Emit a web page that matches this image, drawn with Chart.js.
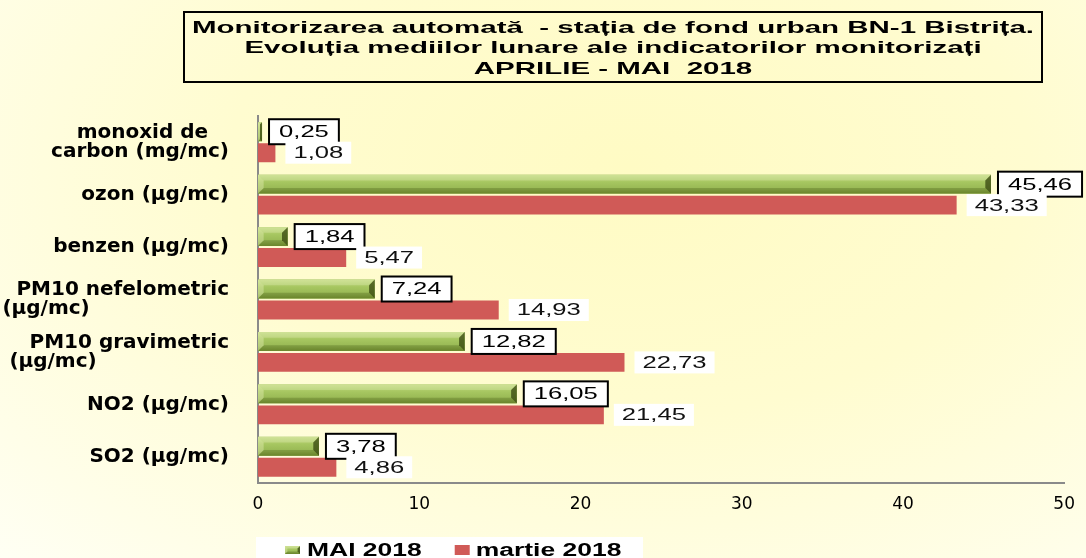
<!DOCTYPE html>
<html>
<head>
<meta charset="utf-8">
<script src="https://cdn.jsdelivr.net/npm/chart.js@4.4.1/dist/chart.umd.min.js"></script>
<style>
html, body { margin: 0; padding: 0; }
body {
	width: 1086px; height: 558px; overflow: hidden;
	background: radial-gradient(ellipse at 58% 30%, #fffbc4 0%, #fffcd0 45%, #fffee9 85%, #fffff4 100%);
}
#wrap { position: relative; width: 1086px; height: 558px; }
</style>
</head>
<body>
<div id="wrap"><canvas id="grafic"></canvas></div>
<script>
var NB = '\u00a0';
var categorii = [
	['monoxid de' + NB.repeat(3), 'carbon (mg/mc)'],
	'ozon (µg/mc)',
	'benzen (µg/mc)',
	['PM10 nefelometric', '(µg/mc)' + NB.repeat(20)],
	['PM10 gravimetric', '(µg/mc)' + NB.repeat(19)],
	'NO2 (µg/mc)',
	'SO2 (µg/mc)'
];
var valoriMai = [0.25, 45.46, 1.84, 7.24, 12.82, 16.05, 3.78];
var valoriMartie = [1.08, 43.33, 5.47, 14.93, 22.73, 21.45, 4.86];
var etichetaMai = 'MAI 2018';
var etichetaMartie = 'martie 2018';
var tickuriX = [0, 10, 20, 30, 40, 50];
var titlu = [
	'Monitorizarea automată  - stația de fond urban BN-1 Bistrița.',
	'Evoluția mediilor lunare ale indicatorilor monitorizați',
	'APRILIE - MAI  2018'
];

var VERDE = '#9bbb59';
var ROSU = '#d05a57';

function poly(ctx, pts, color) {
	ctx.beginPath();
	ctx.moveTo(pts[0][0], pts[0][1]);
	for (var i = 1; i < pts.length; i++) ctx.lineTo(pts[i][0], pts[i][1]);
	ctx.closePath();
	ctx.fillStyle = color;
	ctx.fill();
}

// green bars have a bevelled look in the original
function bevel(ctx, l, t, r, b) {
	var w = r - l, h = b - t;
	if (w <= 0) return;
	var e = Math.min(h * 0.3, w / 2);
	var g = ctx.createLinearGradient(0, t, 0, b);
	g.addColorStop(0, '#c2da82');
	g.addColorStop(0.4, '#a6c660');
	g.addColorStop(0.75, '#98b854');
	g.addColorStop(1, '#7a9836');
	ctx.fillStyle = g;
	ctx.fillRect(l, t, w, h);
	poly(ctx, [[l, t], [r, t], [r - e, t + e], [l + e, t + e]], 'rgba(255,255,225,0.22)');
	poly(ctx, [[l, b], [r, b], [r - e, b - e], [l + e, b - e]], 'rgba(70,90,20,0.3)');
	poly(ctx, [[l, t], [l + e, t + e], [l + e, b - e], [l, b]], 'rgba(255,255,215,0.3)');
	poly(ctx, [[r, t], [r - e, t + e], [r - e, b - e], [r, b]], 'rgba(45,60,8,0.7)');
}

function textLat(ctx, text, x, y, sx) {
	ctx.save();
	ctx.translate(x, y);
	ctx.scale(sx, 1);
	ctx.fillText(text, 0, 0);
	ctx.restore();
}

function formatRo(v) {
	return v.toFixed(2).replace('.', ',');
}

var pluginBare = {
	id: 'bareEtichete',
	afterDatasetsDraw: function(chart) {
		var ctx = chart.ctx;
		ctx.save();
		var m0 = chart.getDatasetMeta(0);
		m0.data.forEach(function(el) {
			var p = el.getProps(['x', 'y', 'base', 'height'], true);
			bevel(ctx, p.base, p.y - p.height / 2, p.x, p.y + p.height / 2);
		});
		ctx.font = '16px "Liberation Sans", Arial, sans-serif';
		ctx.textBaseline = 'middle';
		ctx.textAlign = 'left';
		var sx = 1.6;
		chart.data.datasets.forEach(function(ds, di) {
			var meta = chart.getDatasetMeta(di);
			meta.data.forEach(function(el, i) {
				var p = el.getProps(['x', 'y'], true);
				var txt = formatRo(ds.data[i]);
				var w = ctx.measureText(txt).width * sx;
				if (di === 0) {
					var x0 = p.x + 7, bw = w + 20, bh = 25;
					ctx.fillStyle = '#ffffff';
					ctx.fillRect(x0, p.y - bh / 2, bw, bh);
					ctx.lineWidth = 2;
					ctx.strokeStyle = '#000000';
					ctx.strokeRect(x0, p.y - bh / 2, bw, bh);
					ctx.fillStyle = '#000000';
					textLat(ctx, txt, x0 + 10, p.y + 1, sx);
				} else {
					var x1 = p.x + 10, rw = w + 16, rh = 22;
					ctx.fillStyle = '#ffffff';
					ctx.fillRect(x1, p.y - rh / 2, rw, rh);
					ctx.fillStyle = '#111111';
					textLat(ctx, txt, x1 + 8, p.y + 1, sx);
				}
			});
		});
		ctx.restore();
	}
};

var pluginTitluLegenda = {
	id: 'titluLegenda',
	afterDraw: function(chart) {
		var ctx = chart.ctx;
		ctx.save();
		// title box
		ctx.strokeStyle = '#000000';
		ctx.lineWidth = 2;
		ctx.strokeRect(184, 12, 858, 70);
		ctx.font = 'bold 17px "Liberation Sans", Arial, sans-serif';
		ctx.fillStyle = '#000000';
		ctx.textBaseline = 'alphabetic';
		ctx.textAlign = 'center';
		var sx = 842 / ctx.measureText(titlu[0]).width;
		var ys = [33, 53, 74];
		titlu.forEach(function(l, i) {
			textLat(ctx, l, 613, ys[i], sx);
		});

		// legend
		ctx.fillStyle = '#ffffff';
		ctx.fillRect(256, 537, 387, 30);
		ctx.font = 'bold 18px "Liberation Sans", Arial, sans-serif';
		ctx.textAlign = 'left';
		var lsx = 1.47;
		bevel(ctx, 285, 546, 300, 554);
		ctx.fillStyle = '#000000';
		textLat(ctx, chart.data.datasets[0].label, 307, 556, lsx);
		var x2 = 307 + ctx.measureText(chart.data.datasets[0].label).width * lsx + 33;
		ctx.fillStyle = ROSU;
		ctx.fillRect(x2, 545, 15, 10);
		ctx.fillStyle = '#000000';
		textLat(ctx, chart.data.datasets[1].label, x2 + 21, 556, lsx);
		ctx.restore();
	}
};

var grafic = new Chart(document.getElementById('grafic'), {
	type: 'bar',
	data: {
		labels: categorii,
		datasets: [{
			label: etichetaMai,
			data: valoriMai,
			backgroundColor: VERDE,
			categoryPercentage: 0.8,
			barPercentage: 0.9
		}, {
			label: etichetaMartie,
			data: valoriMartie,
			backgroundColor: ROSU,
			categoryPercentage: 0.8,
			barPercentage: 0.9
		}]
	},
	options: {
		indexAxis: 'y',
		responsive: true,
		maintainAspectRatio: false,
		animation: false,
		layout: { padding: { top: 116, right: 16, bottom: 35, left: 0 } },
		plugins: {
			legend: { display: false },
			title: { display: false },
			tooltip: { enabled: false }
		},
		scales: {
			x: {
				min: tickuriX[0],
				max: tickuriX[tickuriX.length - 1],
				ticks: {
					stepSize: tickuriX[1] - tickuriX[0],
					color: '#000000',
					padding: 11,
					font: { family: 'DejaVu Sans', size: 17 }
				},
				grid: { display: false, drawTicks: false },
				border: { display: true, color: '#8a8a8a', width: 2 },
				afterFit: function(s) { s.height = 40; }
			},
			y: {
				ticks: {
					color: '#000000',
					padding: 29,
					autoSkip: false,
					font: { family: 'DejaVu Sans', size: 20, weight: 'bold', lineHeight: 0.95 }
				},
				grid: { display: false, drawTicks: false },
				border: { display: true, color: '#8a8a8a', width: 2 },
				afterFit: function(s) { s.width = 258; }
			}
		}
	},
	plugins: [pluginBare, pluginTitluLegenda]
});
</script>
</body>
</html>
